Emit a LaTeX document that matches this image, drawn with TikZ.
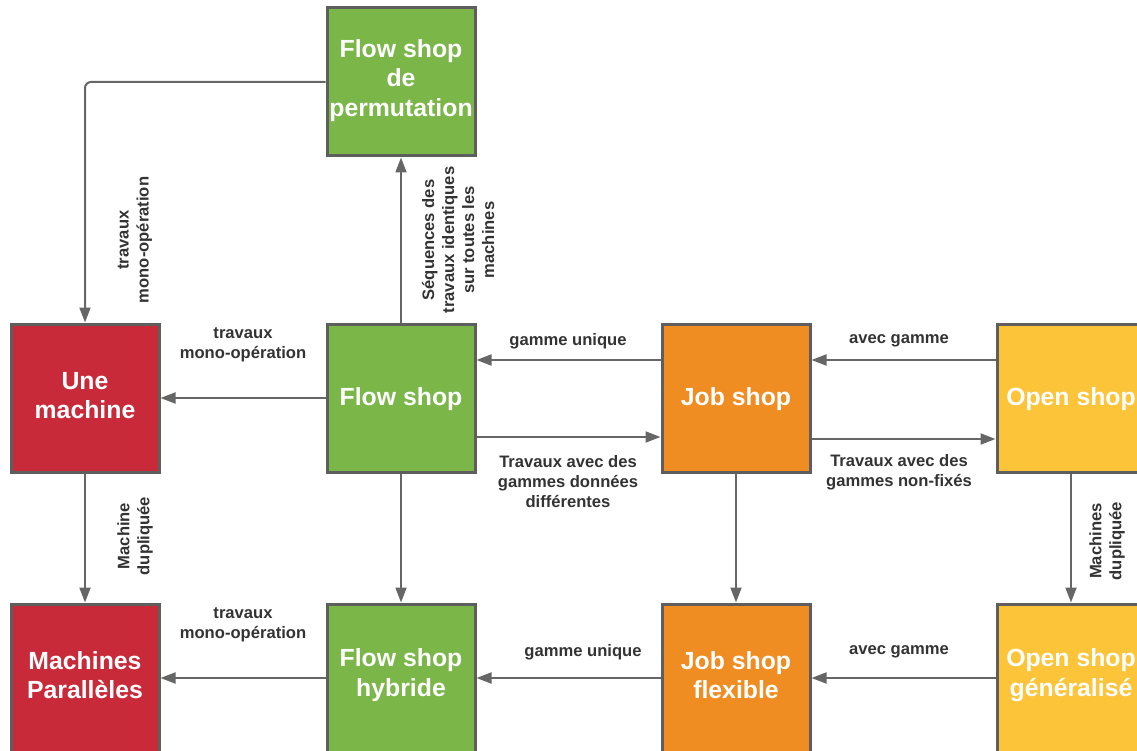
\documentclass[tikz,border=0pt]{standalone}
\usepackage{fontspec}
\setmainfont{Liberation Sans}
\usetikzlibrary{arrows.meta}
\definecolor{redbox}{HTML}{C92A39}
\definecolor{greenbox}{HTML}{7AB648}
\definecolor{orangebox}{HTML}{EF8D22}
\definecolor{yellowbox}{HTML}{FCC438}
\definecolor{edgegray}{HTML}{5E5E5E}
\definecolor{linkgray}{HTML}{666666}
\definecolor{labelgray}{HTML}{333333}

\begin{document}
\begin{tikzpicture}[x=1pt,y=-1pt,
  box/.style={draw=edgegray, line width=3pt, minimum width=148pt, minimum height=148pt,
    inner sep=0pt, align=center, text=white, font=\fontsize{24.8}{29.5}\selectfont\bfseries},
  boxtext/.style={text=white, align=center, inner sep=0pt, font=\fontsize{24.8}{29.5}\selectfont\bfseries},
  link/.style={draw=linkgray, line width=2pt, -{Triangle[length=15pt,width=11pt]}},
  lbl/.style={text=labelgray, align=center, font=\fontsize{16.6}{20}\selectfont\bfseries, inner sep=0pt},
]
\useasboundingbox (0,0) rectangle (1137,751);
\clip (0,0) rectangle (1137,751);

% classification boxes
\node[box, fill=greenbox]  (perm) at (401,82)   {};
\node[box, fill=redbox]    (une)  at (85,398)   {};
\node[box, fill=greenbox]  (fs)   at (401,398)  {};
\node[box, fill=orangebox] (js)   at (736,398)  {};
\node[box, fill=yellowbox] (os)   at (1071,398) {};
\node[box, fill=redbox]    (mp)   at (85,678)   {};
\node[box, fill=greenbox]  (fsh)  at (401,678)  {};
\node[box, fill=orangebox] (jsf)  at (736,678)  {};
\node[box, fill=yellowbox] (osg)  at (1071,678) {};

% box titles, set a little above each box centre
\node[boxtext] (permt) at ([yshift=1.5pt]perm.center) {Flow shop\\de\\permutation};
\node[boxtext] (unet)  at ([yshift=2.5pt]une.center)  {Une\\machine};
\node[boxtext] (fst)   at ([yshift=-1.5pt]fs.center)  {Flow shop};
\node[boxtext] (jst)   at ([yshift=-1.5pt]js.center)  {Job shop};
\node[boxtext] (ost)   at ([yshift=-1.5pt]os.center)  {Open shop};
\node[boxtext] (mpt)   at ([yshift=3pt]mp.center)     {Machines\\Parallèles};
\node[boxtext] (fsht)  at ([yshift=3pt]fsh.center)    {Flow shop\\hybride};
\node[boxtext] (jsft)  at ([yshift=3pt]jsf.center)    {Job shop\\flexible};
\node[boxtext] (osgt)  at ([yshift=3pt]osg.center)    {Open shop\\généralisé};

% connectors
\draw[link, rounded corners=6pt] (perm.west) -| (une.north);
\draw[link] (fs.north) -- (perm.south);
\draw[link] (fs.west) -- (une.east);
\draw[link] ([yshift=38pt]js.west) -- ([yshift=38pt]fs.east);
\draw[link] ([yshift=-39pt]fs.east) -- ([yshift=-39pt]js.west);
\draw[link] ([yshift=38pt]os.west) -- ([yshift=38pt]js.east);
\draw[link] ([yshift=-41pt]js.east) -- ([yshift=-41pt]os.west);
\draw[link] (une.south) -- (mp.north);
\draw[link] (fs.south) -- (fsh.north);
\draw[link] (js.south) -- (jsf.north);
\draw[link] (os.south) -- (osg.north);
\draw[link] (fsh.west) -- (mp.east);
\draw[link] (jsf.west) -- (fsh.east);
\draw[link] (osg.west) -- (jsf.east);

% connector labels
\node[lbl, rotate=90] (l1) at (135,240) {travaux\\mono-opération};
\node[lbl, rotate=90] (l2) at (458,240) {Séquences des\\travaux identiques\\sur toutes les\\machines};
\node[lbl] (l3) at (243,345) {travaux\\mono-opération};
\node[lbl] (l4) at (568,341) {gamme unique};
\node[lbl] (l5) at (568,482) {Travaux avec des\\gammes données\\différentes};
\node[lbl] (l6) at (899,341) {avec gamme};
\node[lbl] (l7) at (899,472) {Travaux avec des\\gammes non-fixés};
\node[lbl, rotate=90] (l8) at (135,536) {Machine\\dupliquée};
\node[lbl, rotate=90] (l9) at (1107,541) {Machines\\dupliquée};
\node[lbl] (l10) at (243,625) {travaux\\mono-opération};
\node[lbl] (l11) at (583,652) {gamme unique};
\node[lbl] (l12) at (899,652) {avec gamme};
\end{tikzpicture}
\end{document}
